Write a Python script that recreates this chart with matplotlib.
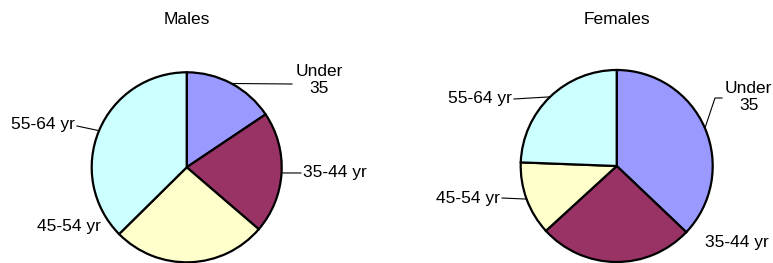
import numpy as np
import matplotlib.pyplot as plt

plt.rcParams['font.family'] = ['Liberation Sans', 'DejaVu Sans']

# share of each age group (%)
age_groups = ['Under\n35', '35-44 yr', '45-54 yr', '55-64 yr']
males = [15.6, 20.7, 26.3, 37.4]
females = [37.1, 26.1, 12.4, 24.4]
colors = ['#9999FF', '#993366', '#FFFFCC', '#CCFFFF']

W, H = 773, 263
fig = plt.figure(figsize=(W / 100, H / 100), dpi=100)
ax = fig.add_axes([0, 0, 1, 1])


def px(x, y):
    # picture pixels (origin top left) -> data coords
    return x, H - y


# label placement: (text x, text y, ha, leader points or None)
males_layout = [
    (319, 80, 'center', [(292, 84)]),
    (303, 173, 'left', [(301, 173)]),
    (101, 227, 'right', None),
    (75, 125, 'right', [(77, 126)]),
]
females_layout = [
    (725, 97, 'left', [(722, 98), (715, 98)]),
    (705, 242, 'left', None),
    (500, 198, 'right', [(502, 198)]),
    (512, 98, 'right', [(514, 99)]),
]


def draw_pie(values, cx, cy, r, title, layout):
    center = px(cx, cy)
    wedges, _ = ax.pie(values, colors=colors, startangle=90, counterclock=False,
                       center=center, radius=r,
                       wedgeprops=dict(edgecolor='black', linewidth=1.6))
    for w, lab, (tx, ty, ha, leader) in zip(wedges, age_groups, layout):
        ax.text(*px(tx, ty), lab, ha=ha, va='center', fontsize=12.5,
                multialignment='center', linespacing=1.15)
        if leader:
            mid = np.deg2rad((w.theta1 + w.theta2) / 2)
            ex = center[0] + r * np.cos(mid)
            ey = center[1] + r * np.sin(mid)
            pts = [px(*p) for p in leader] + [(ex, ey)]
            xs, ys = zip(*pts)
            ax.plot(xs, ys, color='black', lw=0.8)
    ax.text(*px(cx, 19), title, ha='center', va='center', fontsize=12.5)


draw_pie(males, 186.7, 167.3, 95, 'Males', males_layout)
draw_pie(females, 616.7, 166, 96, 'Females', females_layout)

ax.set_xlim(0, W)
ax.set_ylim(0, H)
ax.set_aspect('equal')
ax.axis('off')

plt.savefig('out.png', dpi=100)
